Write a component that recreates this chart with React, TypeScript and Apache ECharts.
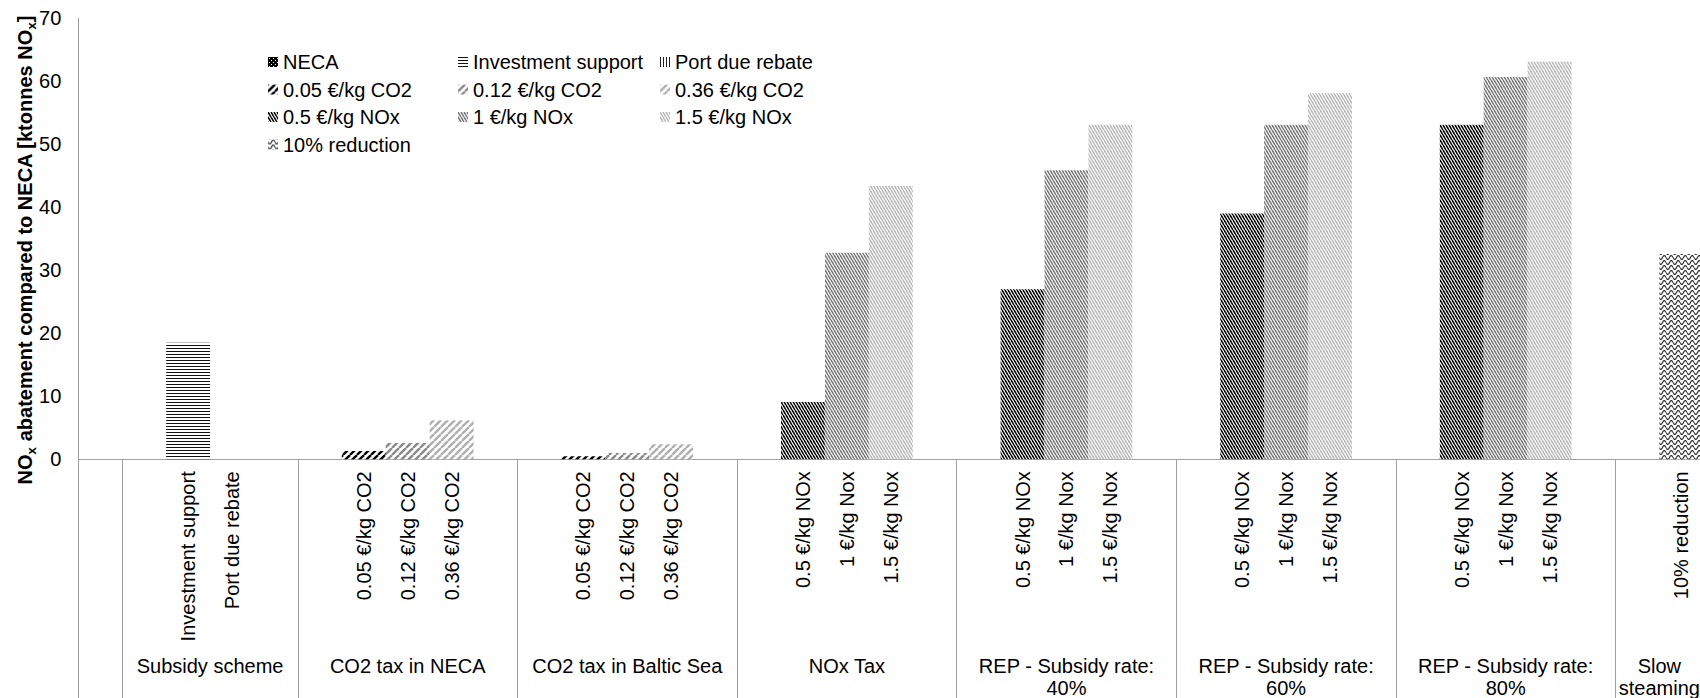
import React, { useEffect, useRef } from 'react';
import * as echarts from 'echarts';

const FONT = '"Liberation Sans", Arial, sans-serif';
const AXIS_COLOR = '#a0a0a0';

// ---- categories ----
const groupNames = [
  '',
  'Subsidy scheme',
  'CO2 tax in NECA',
  'CO2 tax in Baltic Sea',
  'NOx Tax',
  'REP - Subsidy rate:\n40%',
  'REP - Subsidy rate:\n60%',
  'REP - Subsidy rate:\n80%',
  'Slow\nsteaming',
];
const subsidyItems = ['', 'Investment support', 'Port due rebate', ''];
const co2Items = ['', '0.05 €/kg CO2', '0.12 €/kg CO2', '0.36 €/kg CO2', ''];
const noxItems = ['', '0.5 €/kg NOx', '1 €/kg Nox', '1.5 €/kg Nox', ''];
const slowItems = ['', '10% reduction'];
const groupItems: string[][] = [
  [''],
  subsidyItems,
  co2Items,
  co2Items,
  noxItems,
  noxItems,
  noxItems,
  noxItems,
  slowItems,
];

// ---- series values (ktonnes NOx) ----
const necaValues = [0];
const investmentSupportValues = [18.5];
const portDueRebateValues = [0];
const co2Low = [1.3, 0.5];
const co2Mid = [2.6, 1.0];
const co2High = [6.2, 2.4];
const noxLow = [9.1, 27.0, 39.0, 53.1];
const noxMid = [32.8, 45.9, 53.1, 60.7];
const noxHigh = [43.4, 53.1, 58.1, 63.1];
const slowSteamingValues = [32.6];

// series name, values, groups it belongs to, item slot within group
const seriesDefs = [
  { name: 'NECA', values: necaValues, groups: [0], item: 0, pat: 'neca' },
  { name: 'Investment support', values: investmentSupportValues, groups: [1], item: 1, pat: 'hlines' },
  { name: 'Port due rebate', values: portDueRebateValues, groups: [1], item: 2, pat: 'vlines' },
  { name: '0.05 €/kg CO2', values: co2Low, groups: [2, 3], item: 1, pat: 'co2a' },
  { name: '0.12 €/kg CO2', values: co2Mid, groups: [2, 3], item: 2, pat: 'co2b' },
  { name: '0.36 €/kg CO2', values: co2High, groups: [2, 3], item: 3, pat: 'co2c' },
  { name: '0.5 €/kg NOx', values: noxLow, groups: [4, 5, 6, 7], item: 1, pat: 'noxa' },
  { name: '1 €/kg NOx', values: noxMid, groups: [4, 5, 6, 7], item: 2, pat: 'noxb' },
  { name: '1.5 €/kg NOx', values: noxHigh, groups: [4, 5, 6, 7], item: 3, pat: 'noxc' },
  { name: '10% reduction', values: slowSteamingValues, groups: [8], item: 1, pat: 'wave' },
];

const legendColumns = [
  ['NECA', '0.05 €/kg CO2', '0.5 €/kg NOx', '10% reduction'],
  ['Investment support', '0.12 €/kg CO2', '1 €/kg NOx'],
  ['Port due rebate', '0.36 €/kg CO2', '1.5 €/kg NOx'],
];

function tile(w: number, h: number, draw: (ctx: CanvasRenderingContext2D, w: number, h: number) => void) {
  const c = document.createElement('canvas');
  c.width = w;
  c.height = h;
  const ctx = c.getContext('2d')!;
  ctx.fillStyle = '#ffffff';
  ctx.fillRect(0, 0, w, h);
  draw(ctx, w, h);
  return { image: c, repeat: 'repeat', imageWidth: w, imageHeight: h } as any;
}

function diag(up: boolean, color: string, lw: number) {
  return (ctx: CanvasRenderingContext2D, w: number, h: number) => {
    ctx.strokeStyle = color;
    ctx.lineWidth = lw;
    for (const o of [-w, 0, w]) {
      ctx.beginPath();
      if (up) {
        ctx.moveTo(o, h);
        ctx.lineTo(o + w, 0);
      } else {
        ctx.moveTo(o, 0);
        ctx.lineTo(o + w, h);
      }
      ctx.stroke();
    }
  };
}

function makePatterns() {
  return {
    neca: tile(4, 4, (ctx) => {
      ctx.fillStyle = '#000';
      ctx.fillRect(0, 0, 4, 4);
      ctx.fillStyle = '#fff';
      ctx.fillRect(1, 1, 1, 1);
      ctx.fillRect(3, 3, 1, 1);
    }),
    hlines: tile(4, 3, (ctx) => {
      ctx.fillStyle = '#111';
      ctx.fillRect(0, 0, 4, 1);
    }),
    vlines: tile(3, 4, (ctx) => {
      ctx.fillStyle = '#222';
      ctx.fillRect(0, 0, 1, 4);
    }),
    co2a: tile(7, 7, diag(true, '#000', 2.4)),
    co2b: tile(7, 7, diag(true, '#8a8a8a', 2.4)),
    co2c: tile(7, 7, diag(true, '#b0b0b0', 2.4)),
    noxa: tile(3, 5, diag(false, '#000', 1.5)),
    noxb: tile(3, 5, diag(false, '#777', 1.5)),
    noxc: tile(3, 5, diag(false, '#b8b8b8', 1.5)),
    wave: tile(7, 5, (ctx) => {
      ctx.strokeStyle = '#333';
      ctx.lineWidth = 1.2;
      ctx.beginPath();
      for (let x = 0; x <= 7; x += 0.5) {
        const y = 2.5 + 2 * Math.sin((2 * Math.PI * x) / 7);
        if (x === 0) ctx.moveTo(x, y);
        else ctx.lineTo(x, y);
      }
      ctx.stroke();
    }),
  } as Record<string, any>;
}

export default function App() {
  const ref = useRef<HTMLDivElement>(null);

  useEffect(() => {
    document.body.style.margin = '0';
    document.body.style.overflow = 'hidden';
    if (!ref.current) return;
    const chart = echarts.init(ref.current, undefined, { renderer: 'svg' });
    const patterns = makePatterns();

    // build category keys
    const catKeys: string[] = [];
    const groupRanges: [number, number][] = [];
    const groupStart: number[][] = [];
    groupItems.forEach((items, gi) => {
      const start = catKeys.length;
      const idx: number[] = [];
      items.forEach((label, j) => {
        idx.push(catKeys.length);
        catKeys.push(`${gi}|${label}|${j}`);
      });
      groupStart.push(idx);
      groupRanges.push([start, catKeys.length - 1]);
    });
    const starts = groupRanges.map((r) => r[0]);

    const series = seriesDefs.map((d) => {
      const data: (number | null)[] = catKeys.map(() => null);
      d.groups.forEach((g, k) => {
        data[groupStart[g][d.item]] = d.values[k];
      });
      return {
        type: 'bar',
        name: d.name,
        stack: 'all',
        barCategoryGap: '0%',
        data,
        itemStyle: { color: patterns[d.pat] },
        emphasis: { disabled: true },
        silent: true,
      };
    });

    const legendLefts = [268, 458, 660];
    const legends = legendColumns.map((col, i) => ({
      orient: 'vertical',
      left: legendLefts[i],
      top: 52,
      padding: 0,
      itemGap: 7.5,
      itemWidth: 10,
      itemHeight: 10,
      icon: 'rect',
      selectedMode: false,
      data: col,
      textStyle: { fontSize: 20, color: '#000', fontFamily: FONT, lineHeight: 20 },
    }));

    const titleEl = {
      id: 'ytitle',
      type: 'text',
      x: 25,
      y: 250,
      rotation: Math.PI / 2,
      style: {
        text: '{b|NO}{s|x}{b| abatement compared to NECA [ktonnes NO}{s|x}{b|]}',
        align: 'center',
        verticalAlign: 'middle',
        rich: {
          b: { fontSize: 20, fontWeight: 'bold', fontFamily: FONT, fill: '#000', lineHeight: 26, verticalAlign: 'middle' },
          s: { fontSize: 13, fontWeight: 'bold', fontFamily: FONT, fill: '#000', verticalAlign: 'bottom' },
        },
      },
    };

    const option: any = {
      animation: false,
      textStyle: { fontFamily: FONT },
      grid: {
        left: 78.3,
        right: -3.3,
        top: 18.3,
        bottom: 238.7,
        containLabel: false,
        outerBoundsMode: 'none',
      },
      xAxis: {
        type: 'category',
        data: catKeys,
        boundaryGap: true,
        axisLine: { show: true, lineStyle: { color: AXIS_COLOR, width: 1 } },
        axisTick: {
          show: true,
          length: 245,
          interval: (i: number) => starts.includes(i),
          lineStyle: { color: AXIS_COLOR, width: 1 },
        },
        axisLabel: {
          interval: 0,
          rotate: 90,
          margin: 12,
          fontSize: 20,
          color: '#000',
          fontFamily: FONT,
          formatter: (v: string) => v.split('|')[1],
        },
        splitLine: { show: false },
      },
      yAxis: {
        type: 'value',
        min: 0,
        max: 70,
        interval: 10,
        axisLine: { show: true, lineStyle: { color: AXIS_COLOR, width: 1 } },
        axisTick: { show: false },
        splitLine: { show: false },
        axisLabel: { fontSize: 20, color: '#000', margin: 17, fontFamily: FONT },
      },
      legend: legends,
      series,
      graphic: { elements: [titleEl] },
    };
    chart.setOption(option);

    const labelEls = groupRanges
      .map(([a, b], gi) => {
        if (!groupNames[gi]) return null;
        const xa = chart.convertToPixel({ xAxisIndex: 0 }, a) as number;
        const xb = chart.convertToPixel({ xAxisIndex: 0 }, b) as number;
        return {
          id: 'grp' + gi,
          type: 'text',
          x: (xa + xb) / 2,
          y: 655,
          style: {
            text: groupNames[gi],
            align: 'center',
            verticalAlign: 'top',
            fontSize: 20,
            lineHeight: 22,
            fontFamily: FONT,
            fill: '#000',
          },
        };
      })
      .filter(Boolean);
    chart.setOption({ graphic: { elements: [titleEl, ...labelEls] } });

    return () => chart.dispose();
  }, []);

  return <div ref={ref} style={{ width: 1700, height: 698 }} />;
}
